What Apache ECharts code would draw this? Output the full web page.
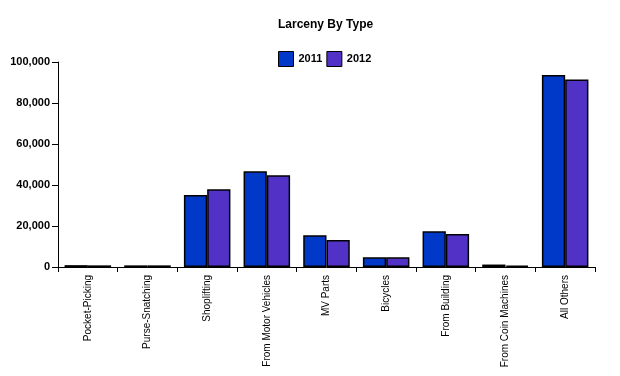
<!DOCTYPE html>
<html>
<head>
<meta charset="utf-8">
<script src="https://cdn.jsdelivr.net/npm/echarts@6/dist/echarts.min.js"></script>
<style>
  html, body { margin: 0; padding: 0; background: #fff; }
  #chart { width: 620px; height: 376px; }
</style>
</head>
<body>
<div id="chart"></div>
<script>
// 类别和数据
var categories = ['Pocket-Picking', 'Purse-Snatching', 'Shoplifting', 'From Motor Vehicles',
  'MV Parts', 'Bicycles', 'From Building', 'From Coin Machines', 'All Others']
var data2011 = [900, 800, 35100, 46700, 15500, 4700, 17400, 1200, 93700]
var data2012 = [800, 800, 37900, 44700, 13200, 4700, 16100, 700, 91500]
var yTicks = [0, 20000, 40000, 60000, 80000, 100000]

var myChart = echarts.init(document.getElementById('chart'))
myChart.setOption({
  animation: false,
  title: {
    text: 'Larceny By Type',
    left: 278,
    top: 19,
    padding: 0,
    textStyle: { fontFamily: 'Liberation Sans', fontSize: 12, fontWeight: 'bold', color: '#000' }
  },
  legend: {
    top: 51,
    left: 278,
    padding: 0,
    itemWidth: 15,
    itemHeight: 15,
    itemGap: 4,
    icon: 'rect',
    textStyle: { fontFamily: 'Liberation Sans', fontSize: 11, fontWeight: 'bold', color: '#000' },
    itemStyle: { borderColor: '#000', borderWidth: 1 }
  },
  grid: { left: 58, right: 25, top: 62, bottom: 109 },
  xAxis: {
    type: 'category',
    data: categories,
    axisLine: { lineStyle: { color: '#000', width: 1 } },
    axisTick: { show: true, length: 5, lineStyle: { color: '#000' } },
    axisLabel: {
      interval: 0,
      rotate: 90,
      margin: 8,
      fontFamily: 'Liberation Sans',
      fontSize: 10,
      color: '#000'
    },
    splitLine: { show: false }
  },
  yAxis: {
    type: 'value',
    min: yTicks[0],
    max: yTicks[yTicks.length - 1],
    interval: 20000,
    axisLine: { show: true, lineStyle: { color: '#000', width: 1 } },
    axisTick: { show: true, length: 6, lineStyle: { color: '#000' } },
    axisLabel: {
      margin: 8,
      fontFamily: 'Liberation Sans',
      fontSize: 11,
      fontWeight: 'bold',
      color: '#000',
      formatter: function(v) { return v.toLocaleString('en-US') }
    },
    splitLine: { show: false }
  },
  series: [
    {
      name: '2011',
      type: 'bar',
      data: data2011,
      barGap: '0%',
      barCategoryGap: '22%',
      itemStyle: { color: '#0038c8', borderColor: '#000', borderWidth: 1.5 }
    },
    {
      name: '2012',
      type: 'bar',
      data: data2012,
      itemStyle: { color: '#5232c6', borderColor: '#000', borderWidth: 1.5 }
    }
  ]
})
</script>
</body>
</html>
